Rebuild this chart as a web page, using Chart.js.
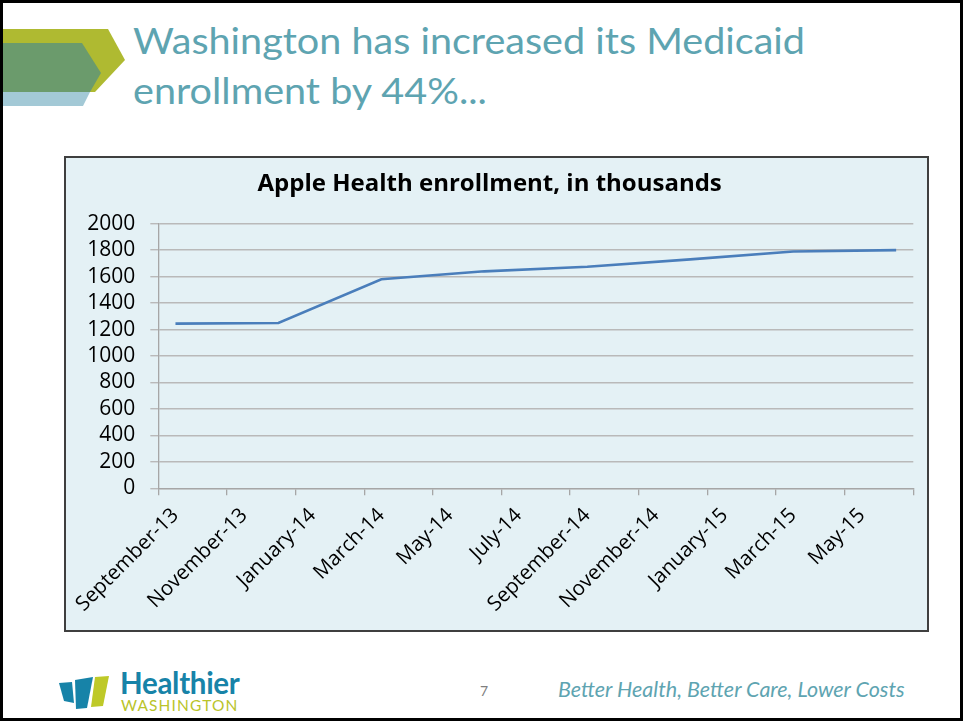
<!DOCTYPE html>
<html>
<head>
<meta charset="utf-8">
<script src="https://cdn.jsdelivr.net/npm/chart.js@4.4.1/dist/chart.umd.min.js"></script>
<style>
    html, body { margin: 0; padding: 0; background: #fff; }
    #slide {
        position: relative; width: 963px; height: 721px;
        border: 3px solid #000; box-sizing: border-box; overflow: hidden;
        font-family: "Lato", "Open Sans", sans-serif;
    }
    .title {
        position: absolute; left: 130px; margin: 0; white-space: nowrap;
        font-family: "Lato", sans-serif; font-weight: 400; font-size: 36px;
        color: #5ea4b1; line-height: 1; transform-origin: 0 0;
    }
    #chartBox {
        position: absolute; left: 61px; top: 153px; width: 865px; height: 476px;
        border: 2px solid #3f3f3f; box-sizing: border-box; background: #e4f1f5;
    }
    #chartBox canvas { display: block; }
    #pageNum { position: absolute; left: 477px; top: 679px; font-size: 14px; color: #7f7f7f; }
    #motto {
        position: absolute; left: 555px; top: 673px; font-size: 21.5px; font-style: italic;
        color: #5ea4b1; white-space: nowrap;
    }
    #logoText1 { position: absolute; left: 117px; top: 662px; font-size: 29.5px; font-weight: 700; color: #1783a8; letter-spacing: -0.3px; }
    #logoText2 { position: absolute; left: 118px; top: 693px; font-size: 15.5px; font-weight: 400; color: #b9c42a; letter-spacing: 1.1px; }
</style>
</head>
<body>
<div id="slide">
    <svg width="140" height="120" style="position:absolute;left:-3px;top:-3px">
        <polygon points="0,29 108,29 125,60 95,92 0,92" fill="#afba31"/>
        <polygon points="0,43 82,43 101,73 90,92 0,92" fill="#6b9b6c"/>
        <polygon points="0,92 90,92 83,106 0,106" fill="#a3c9d6"/>
    </svg>
    <p class="title" id="title1" style="top:19px">Washington has increased its Medicaid</p>
    <p class="title" id="title2" style="top:69px">enrollment by 44%...</p>

    <div id="chartBox"><canvas id="enrollChart" width="861" height="472"></canvas></div>

    <svg width="60" height="45" style="position:absolute;left:53px;top:667px">
        <polygon points="3,13 16,12 18,33 8,31" fill="#1783a8"/>
        <polygon points="19,10 37,7 31,38 20,39" fill="#1783a8"/>
        <polygon points="39,7 53,6 47,36 35,37" fill="#bec928"/>
    </svg>
    <div id="logoText1">Healthier</div>
    <div id="logoText2">WASHINGTON</div>
    <div id="pageNum">7</div>
    <div id="motto">Better Health, Better Care, Lower Costs</div>
</div>

<script>
// months on the x axis (every other one gets a label)
const months = [
    "September-13", "October-13", "November-13", "December-13",
    "January-14", "February-14", "March-14", "April-14", "May-14", "June-14",
    "July-14", "August-14", "September-14", "October-14", "November-14", "December-14",
    "January-15", "February-15", "March-15", "April-15", "May-15", "June-15"
];
// enrollment in thousands (quarterly points, gaps joined)
const enrollment = [
    1245, null, null, 1250,
    null, null, 1580, null, null, 1640,
    null, null, 1675, null, null, 1730,
    null, null, 1790, null, null, 1800
];
const yMin = 0;
const yMax = 2000;
const yStep = 200;

document.addEventListener("DOMContentLoaded", () => {
    // the slide title is Calibri in the original; stretch the line to its width
    const t1 = document.getElementById("title1");
    const t2 = document.getElementById("title2");
    const sx = 672 / t1.getBoundingClientRect().width;
    t1.style.transform = "scaleX(" + sx + ")";
    t2.style.transform = "scaleX(" + sx + ")";

    const ctx = document.getElementById("enrollChart").getContext("2d");
    const tickMarkColor = (c) => (c.index === undefined || c.index % 2 === 0) ? "#a6a6a6" : "rgba(0,0,0,0)";

    new Chart(ctx, {
        type: "line",
        data: {
            labels: months,
            datasets: [{
                label: "Apple Health enrollment",
                data: enrollment,
                borderColor: "#4a7ebb",
                borderWidth: 2.6,
                pointRadius: 0,
                spanGaps: true,
                tension: 0,
                fill: false
            }]
        },
        options: {
            responsive: false,
            animation: false,
            devicePixelRatio: 1,
            layout: { padding: { left: 0, right: 13.7, top: 0, bottom: 0 } },
            plugins: {
                legend: { display: false },
                tooltip: { enabled: false },
                title: {
                    display: true,
                    text: "Apple Health enrollment, in thousands",
                    color: "#000",
                    font: { family: "Open Sans", size: 24, weight: "bold" },
                    padding: { top: 11.6, bottom: 25.3 }
                }
            },
            scales: {
                x: {
                    offset: true,
                    grid: {
                        offset: true,
                        drawOnChartArea: false,
                        tickLength: 7,
                        lineWidth: 1.3,
                        color: tickMarkColor,
                        tickColor: tickMarkColor
                    },
                    border: { color: "#a6a6a6", width: 1.3 },
                    ticks: {
                        autoSkip: false,
                        maxRotation: 45,
                        minRotation: 45,
                        padding: 8,
                        color: "#000",
                        font: { family: "Open Sans", size: 20.5 },
                        callback: (v, i) => (i % 2 === 0 ? months[i] : "")
                    },
                    afterFit: (scale) => { scale.height = 141.7; }
                },
                y: {
                    min: yMin,
                    max: yMax,
                    grid: { color: "#b9b9b9", lineWidth: 1.4, tickLength: 8 },
                    border: { color: "#a6a6a6", width: 1.3 },
                    ticks: {
                        stepSize: yStep,
                        autoSkip: false,
                        padding: 15,
                        color: "#000",
                        font: { family: "Open Sans", size: 21 },
                        callback: (v) => String(v)
                    },
                    afterFit: (scale) => { scale.width = 92.3; }
                }
            }
        }
    });
});
</script>
</body>
</html>
